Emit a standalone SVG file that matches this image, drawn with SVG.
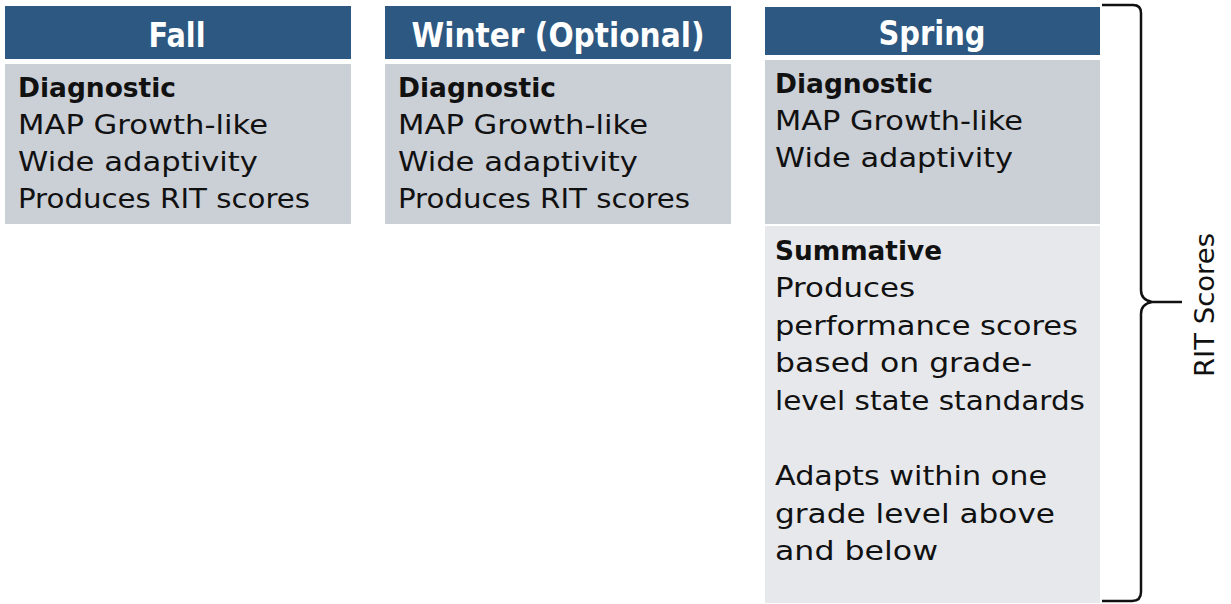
<svg xmlns="http://www.w3.org/2000/svg" width="1231" height="604" viewBox="0 0 1231 604">
  <style>
    .hdr { fill: #2C5881; }
    .body { fill: #CBCFD6; }
    .body2 { fill: #E7E8EB; }
    .htxt { font-family: "DejaVu Sans", sans-serif; font-weight: bold; font-size: 34px; fill: #FFFFFF; text-anchor: middle; }
    .ttl { font-family: "DejaVu Sans", sans-serif; font-weight: bold; font-size: 26px; fill: #111111; }
    .txt { font-family: "DejaVu Sans", sans-serif; font-size: 26px; fill: #111111; }
    .brace { fill: none; stroke: #111111; stroke-width: 2.5; }
  </style>
  <rect width="1231" height="604" fill="#FFFFFF"/>

  <!-- Fall column -->
  <g id="fall">
    <rect class="hdr" x="5" y="6" width="346" height="53"/>
    <text class="htxt" x="177" y="47" textLength="57" lengthAdjust="spacingAndGlyphs">Fall</text>
    <rect class="body" x="5" y="64" width="346" height="160"/>
    <text class="ttl" x="18" y="97" textLength="158" lengthAdjust="spacingAndGlyphs">Diagnostic</text>
    <text class="txt" x="18" y="134" textLength="250" lengthAdjust="spacingAndGlyphs">MAP Growth-like</text>
    <text class="txt" x="18" y="171" textLength="240" lengthAdjust="spacingAndGlyphs">Wide adaptivity</text>
    <text class="txt" x="18" y="208" textLength="292" lengthAdjust="spacingAndGlyphs">Produces RIT scores</text>
  </g>

  <!-- Winter column -->
  <g id="winter">
    <rect class="hdr" x="385" y="6" width="346" height="53"/>
    <text class="htxt" x="558" y="47" textLength="293" lengthAdjust="spacingAndGlyphs">Winter (Optional)</text>
    <rect class="body" x="385" y="64" width="346" height="160"/>
    <text class="ttl" x="398" y="97" textLength="158" lengthAdjust="spacingAndGlyphs">Diagnostic</text>
    <text class="txt" x="398" y="134" textLength="250" lengthAdjust="spacingAndGlyphs">MAP Growth-like</text>
    <text class="txt" x="398" y="171" textLength="240" lengthAdjust="spacingAndGlyphs">Wide adaptivity</text>
    <text class="txt" x="398" y="208" textLength="292" lengthAdjust="spacingAndGlyphs">Produces RIT scores</text>
  </g>

  <!-- Spring column: diagnostic part -->
  <g id="spring">
    <rect class="hdr" x="765" y="7" width="335" height="48"/>
    <text class="htxt" x="932" y="45" textLength="107" lengthAdjust="spacingAndGlyphs">Spring</text>
    <rect class="body" x="765" y="60" width="335" height="164"/>
    <text class="ttl" x="775" y="93" textLength="158" lengthAdjust="spacingAndGlyphs">Diagnostic</text>
    <text class="txt" x="775" y="130" textLength="248" lengthAdjust="spacingAndGlyphs">MAP Growth-like</text>
    <text class="txt" x="775" y="167" textLength="238" lengthAdjust="spacingAndGlyphs">Wide adaptivity</text>
  </g>

  <!-- Spring column: summative part -->
  <g id="summative">
    <rect class="body2" x="765" y="226" width="335" height="377"/>
    <text class="ttl" x="775" y="260" textLength="167" lengthAdjust="spacingAndGlyphs">Summative</text>
    <text class="txt" x="775" y="297" textLength="140" lengthAdjust="spacingAndGlyphs">Produces</text>
    <text class="txt" x="775" y="335" textLength="303" lengthAdjust="spacingAndGlyphs">performance scores</text>
    <text class="txt" x="775" y="372" textLength="257" lengthAdjust="spacingAndGlyphs">based on grade-</text>
    <text class="txt" x="775" y="410" textLength="310" lengthAdjust="spacingAndGlyphs">level state standards</text>
    <text class="txt" x="775" y="485" textLength="272" lengthAdjust="spacingAndGlyphs">Adapts within one</text>
    <text class="txt" x="775" y="523" textLength="280" lengthAdjust="spacingAndGlyphs">grade level above</text>
    <text class="txt" x="775" y="560" textLength="163" lengthAdjust="spacingAndGlyphs">and below</text>
  </g>

  <!-- Curly brace grouping the spring tests -->
  <g id="connectors">
    <path class="brace" d="M1102,5 L1133,5 Q1141,5 1141,13 L1141,290 Q1141,300 1152,302 L1182,302 M1152,302 Q1141,304 1141,314 L1141,592 Q1141,601 1132,601 L1102,601"/>
  </g>

  <g id="rit-label">
    <text class="txt" transform="translate(1214,305) rotate(-90)" text-anchor="middle" font-size="24" textLength="144" lengthAdjust="spacingAndGlyphs">RIT Scores</text>
  </g>
</svg>
